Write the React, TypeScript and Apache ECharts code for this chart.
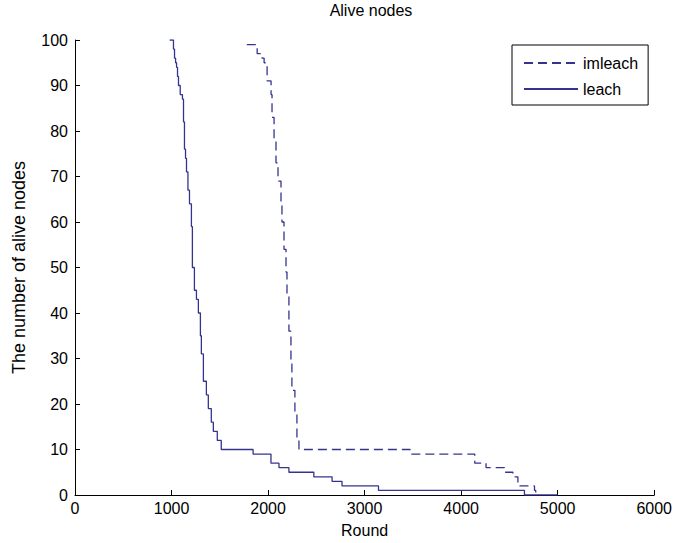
import React, { useEffect, useRef } from "react";
import * as echarts from "echarts";

// leach (solid) staircase: round where a level starts, alive nodes from that round
const leachRounds = [980, 1020, 1031, 1042, 1052, 1062, 1072, 1090, 1113, 1124, 1134, 1145, 1155, 1170, 1186, 1206, 1216, 1237, 1258, 1278, 1299, 1309, 1330, 1361, 1381, 1412, 1433, 1474, 1515, 1845, 2030, 2113, 2216, 2474, 2663, 2766, 3144, 4656, 5000];
const leachAlive = [100, 98, 96, 95, 94, 92, 90, 88, 87, 82, 76, 74, 71, 67, 64, 59, 50, 45, 43, 40, 35, 31, 25, 22, 19, 16, 14, 12, 10, 9, 7, 6, 5, 4, 3, 2, 1, 0, 0];

// imleach (dashed)
const imleachRounds = [1780, 1856, 1887, 1938, 1959, 1990, 2031, 2041, 2062, 2082, 2103, 2134, 2144, 2165, 2186, 2196, 2216, 2237, 2247, 2278, 2299, 2320, 3471, 4141, 4258, 4450, 4536, 4588, 4760, 4773];
const imleachAlive = [99, 99, 97, 96, 95, 91, 88, 83, 78, 73, 69, 64, 60, 54, 49, 44, 36, 29, 23, 18, 12, 10, 9, 7, 6, 5, 4, 2, 1, 0];

const xTicks = { min: 0, max: 6000, interval: 1000 };
const yTicks = { min: 0, max: 100, interval: 10 };

const FONT = "Liberation Sans, Arial, sans-serif";
const LINE = "#34348f";

export default function App() {
  const ref = useRef<HTMLDivElement>(null);
  useEffect(() => {
    if (!ref.current) return;
    const chart = echarts.init(ref.current, undefined, { renderer: "svg" });
    const pair = (xs: number[], ys: number[]) => xs.map((x, i) => [x, ys[i]]);
    chart.setOption({
      animation: false,
      backgroundColor: "#fff",
      textStyle: { fontFamily: FONT },
      title: {
        text: "Alive nodes",
        left: 366,
        top: -3,
        textAlign: "center",
        textStyle: { fontFamily: FONT, fontSize: 16, fontWeight: "normal", color: "#000" },
      },
      grid: { left: 75, right: 18, top: 40, bottom: 39, containLabel: false },
      legend: {
        orient: "vertical",
        left: 512,
        top: 45,
        padding: [10, 10, 8, 11],
        itemGap: 10,
        itemWidth: 54,
        itemHeight: 14,
        borderColor: "#000",
        borderWidth: 1,
        borderRadius: 0,
        backgroundColor: "#fff",
        itemStyle: { color: "transparent", borderWidth: 0, opacity: 0 },
        textStyle: { fontFamily: FONT, fontSize: 16, color: "#000" },
        data: ["imleach", "leach"],
      },
      xAxis: {
        type: "value",
        ...xTicks,
        name: "Round",
        nameLocation: "middle",
        nameGap: 27,
        nameTextStyle: { fontFamily: FONT, fontSize: 16, color: "#000" },
        axisLine: { show: true, onZero: false, lineStyle: { color: "#000", width: 1 } },
        axisTick: { show: true, inside: true, length: 5, lineStyle: { color: "#000" } },
        axisLabel: {
          color: "#000",
          fontFamily: FONT,
          fontSize: 16,
          margin: 5,
          formatter: (v: number) => String(v),
        },
        splitLine: { show: false },
      },
      yAxis: {
        type: "value",
        ...yTicks,
        name: "The number of alive nodes",
        nameLocation: "middle",
        nameGap: 47,
        nameTextStyle: { fontFamily: FONT, fontSize: 18, color: "#000" },
        axisLine: { show: true, onZero: false, lineStyle: { color: "#000", width: 1 } },
        axisTick: { show: true, inside: true, length: 5, lineStyle: { color: "#000" } },
        axisLabel: { color: "#000", fontFamily: FONT, fontSize: 16, margin: 7 },
        splitLine: { show: false },
      },
      series: [
        {
          name: "imleach",
          type: "line",
          step: "end",
          symbol: "none",
          silent: true,
          lineStyle: { color: LINE, width: 1.3, type: [9, 5] },
          itemStyle: { color: LINE },
          data: pair(imleachRounds, imleachAlive),
        },
        {
          name: "leach",
          type: "line",
          step: "end",
          symbol: "none",
          silent: true,
          lineStyle: { color: LINE, width: 1.3, type: "solid" },
          itemStyle: { color: LINE },
          data: pair(leachRounds, leachAlive),
        },
      ],
    });
    return () => chart.dispose();
  }, []);
  return (
    <div
      ref={ref}
      style={{ position: "fixed", left: 0, top: 0, width: 675, height: 543, background: "#fff" }}
    />
  );
}
